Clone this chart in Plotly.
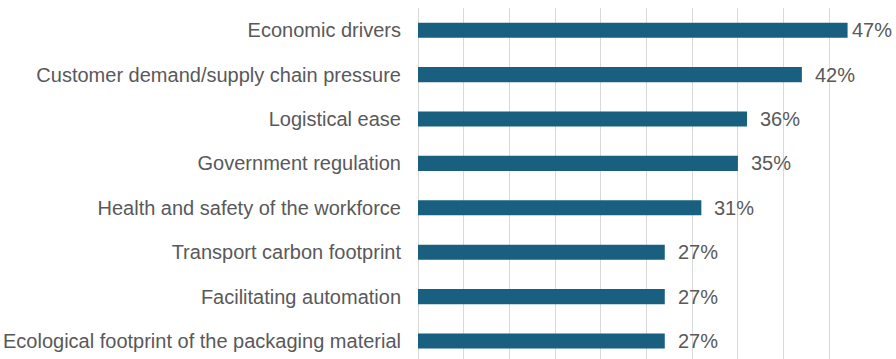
import plotly.graph_objects as go

# Share of respondents citing each driver (%)
drivers = [
    "Economic drivers",
    "Customer demand/supply chain pressure",
    "Logistical ease",
    "Government regulation",
    "Health and safety of the workforce",
    "Transport carbon footprint",
    "Facilitating automation",
    "Ecological footprint of the packaging material",
]
shares = [47, 42, 36, 35, 31, 27, 27, 27]

BAR_COLOR = "#195f80"
TEXT_COLOR = "#595959"
GRID_COLOR = "#d9d9d9"
FONT = "Liberation Sans, Arial, sans-serif"
FONT_SIZE = 20

fig = go.Figure()
fig.add_trace(go.Bar(
    x=shares,
    y=drivers,
    orientation="h",
    marker=dict(color=BAR_COLOR, line=dict(width=0)),
    width=0.34,
    hoverinfo="x+y",
))

# Value labels to the right of each bar
for name, val in zip(drivers, shares):
    fig.add_annotation(
        x=val, y=name, text=f"{val}%",
        xanchor="left", yanchor="middle",
        xshift=11 if val <= 45 else 2,
        showarrow=False,
        font=dict(family=FONT, size=FONT_SIZE, color=TEXT_COLOR),
    )

fig.update_layout(
    width=896, height=359,
    margin=dict(l=418, r=21, t=8, b=0),
    paper_bgcolor="white",
    plot_bgcolor="white",
    showlegend=False,
    font=dict(family=FONT, size=FONT_SIZE, color=TEXT_COLOR),
    xaxis=dict(
        range=[0, 50],
        dtick=5,
        showgrid=True,
        gridcolor=GRID_COLOR,
        gridwidth=1,
        showticklabels=False,
        zeroline=True,
        zerolinecolor=GRID_COLOR,
        zerolinewidth=1,
        showline=False,
        fixedrange=True,
    ),
    yaxis=dict(
        type="category",
        categoryorder="array",
        categoryarray=drivers,
        range=[7.406, -0.5],
        showgrid=False,
        ticks="",
        ticklabelstandoff=16,
        tickfont=dict(family=FONT, size=FONT_SIZE, color=TEXT_COLOR),
        showline=False,
        fixedrange=True,
    ),
)

fig.write_html("out.html")
